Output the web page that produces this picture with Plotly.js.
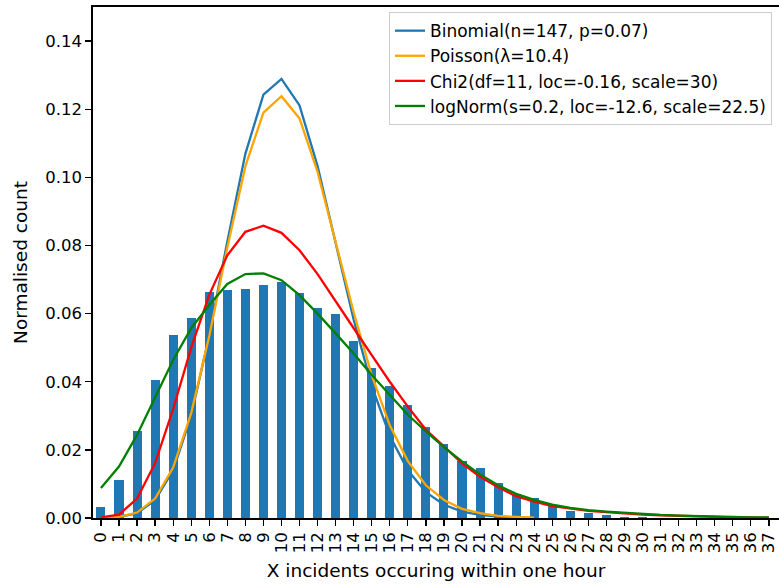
<!DOCTYPE html>
<html>
<head>
<meta charset="utf-8">
<script src="https://cdn.plot.ly/plotly-3.0.1.min.js"></script>
<style>html,body{margin:0;padding:0;background:#fff;}#chart{width:779px;height:584px;}</style>
</head>
<body>
<div id="chart"></div>
<script>
const kValues = [0,1,2,3,4,5,6,7,8,9,10,11,12,13,14,15,16,17,18,19,20,21,22,23,24,25,26,27,28,29,30,31,32,33,34,35,36,37];
const tickLabels = kValues.map(String);
const observed = [0.0031,0.0111,0.0256,0.0404,0.0538,0.0587,0.0662,0.0670,0.0672,0.0683,0.0692,0.0660,0.0617,0.0598,0.0520,0.0440,0.0387,0.0332,0.0268,0.0216,0.0167,0.0146,0.0102,0.0069,0.0058,0.0039,0.0022,0.0016,0.0009,0.0004,0.0002,0.0001,0.0001,0,0,0,0,0];
const kShort = [0,1,2,3,4,5,6,7,8,9,10,11,12,13,14,15,16,17,18,19,20,21,22,23,24];
const binomial = [0.00002,0.00026,0.0014,0.0052,0.0140,0.0300,0.0536,0.0812,0.1069,0.1243,0.1289,0.1211,0.1033,0.0807,0.0582,0.0388,0.0241,0.0140,0.0076,0.0039,0.0019,0.0009,0.0004,0.00015,0.00006];
const poisson = [0.00003,0.0003,0.0016,0.0057,0.0148,0.0308,0.0534,0.0794,0.1032,0.1190,0.1238,0.1173,0.1016,0.0813,0.0604,0.0419,0.0272,0.0167,0.0096,0.0053,0.0027,0.0014,0.0006,0.0003,0.0001];
const chi2 = [0.0002,0.0010,0.0057,0.0161,0.0320,0.0500,0.0655,0.0771,0.0840,0.0858,0.0837,0.0786,0.0716,0.0635,0.0557,0.0478,0.0400,0.0327,0.0259,0.0210,0.0160,0.0121,0.0090,0.0064,0.0048,0.0035,0.0027,0.0021,0.0017,0.0013,0.0010,0.0008,0.0006,0.0004,0.0003,0.0002,0.0002,0.0001];
const lognorm = [0.0088,0.0151,0.0244,0.0356,0.0464,0.0557,0.0625,0.0687,0.0716,0.0718,0.0698,0.0654,0.0600,0.0542,0.0483,0.0420,0.0361,0.0303,0.0254,0.0208,0.0166,0.0128,0.0096,0.0071,0.0053,0.0039,0.0030,0.0023,0.0019,0.0015,0.0012,0.0009,0.0007,0.0005,0.0004,0.0003,0.0002,0.0002];
const names = ["Binomial(n=147, p=0.07)","Poisson(λ=10.4)","Chi2(df=11, loc=-0.16, scale=30)","logNorm(s=0.2, loc=-12.6, scale=22.5)"];

const font = {family: "DejaVu Sans, sans-serif", size: 16.5, color: "#000"};
const titleFont = {family: "DejaVu Sans, sans-serif", size: 18.5, color: "#000"};
const legendFont = {family: "DejaVu Sans, sans-serif", size: 17, color: "#000"};
const traces = [
  {type: "bar", x: kValues, y: observed, width: 0.5, marker: {color: "#1f77b4"}, showlegend: false, hoverinfo: "skip"},
  {type: "scatter", mode: "lines", x: kShort, y: binomial, name: names[0], line: {color: "#1f77b4", width: 2.3}},
  {type: "scatter", mode: "lines", x: kShort, y: poisson, name: names[1], line: {color: "#FFA500", width: 2.3}},
  {type: "scatter", mode: "lines", x: kValues, y: chi2, name: names[2], line: {color: "#FF0000", width: 2.3}},
  {type: "scatter", mode: "lines", x: kValues, y: lognorm, name: names[3], line: {color: "#008000", width: 2.3}}
];
const layout = {
  width: 779, height: 584,
  margin: {l: 93, r: 0, t: 7, b: 66, pad: 0},
  paper_bgcolor: "#fff", plot_bgcolor: "#fff",
  font: font,
  showlegend: true,
  legend: {x: 0.9898, y: 0.99, xanchor: "right", yanchor: "top", bgcolor: "rgba(255,255,255,0.8)", bordercolor: "#cccccc", borderwidth: 1, font: legendFont, tracegroupgap: 0},
  xaxis: {
    range: [-0.44, 37.56], tickmode: "array", tickvals: kValues, ticktext: tickLabels, tickangle: -90,
    ticks: "outside", ticklen: 6, tickwidth: 1.3, tickcolor: "#000",
    showline: true, linecolor: "#000", linewidth: 1.6, mirror: true,
    showgrid: false, zeroline: false, tickfont: font,
    title: {text: "X incidents occuring within one hour", font: titleFont, standoff: 12}
  },
  yaxis: {
    range: [0, 0.15], tickmode: "linear", tick0: 0, dtick: 0.02, tickformat: ".2f",
    ticks: "outside", ticklen: 6, tickwidth: 1.3, tickcolor: "#000",
    showline: true, linecolor: "#000", linewidth: 1.6,
    showgrid: false, zeroline: false, tickfont: font,
    title: {text: "Normalised count", font: titleFont, standoff: 13}
  },
  bargap: 0
};
Plotly.newPlot("chart", traces, layout, {displayModeBar: false, staticPlot: true});
</script>
</body>
</html>
